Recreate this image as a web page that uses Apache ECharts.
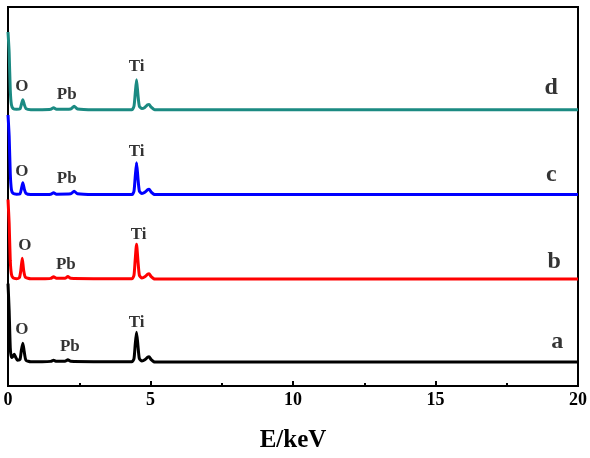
<!DOCTYPE html>
<html>
<head>
<meta charset="UTF-8">
<title>EDS</title>
<script src="https://cdn.jsdelivr.net/npm/echarts@6/dist/echarts.min.js"></script>
<style>
  html, body { margin: 0; padding: 0; background: #fff; }
  #main { width: 590px; height: 458px; }
</style>
</head>
<body>
<div id="main"></div>
<script>
// spectra: [E (keV), intensity incl. vertical offset]
var specA = [[0, 27], [0.04, 20], [0.08, 10], [0.12, 7.5], [0.17, 7.8], [0.22, 8.4], [0.27, 7.6], [0.33, 6.8],
  [0.42, 7.0], [0.47, 9.5], [0.52, 11.3], [0.57, 9.0], [0.63, 6.8], [0.8, 6.4], [1.2, 6.4], [1.5, 6.5],
  [1.6, 6.8], [1.7, 6.5], [2.0, 6.5], [2.1, 6.9], [2.2, 6.5], [3.0, 6.4], [4.0, 6.4], [4.35, 6.4],
  [4.42, 7.2], [4.46, 10.6], [4.51, 14.2], [4.56, 10.6], [4.61, 7.2], [4.7, 6.6], [4.8, 6.9], [4.9, 7.6],
  [4.95, 7.7], [5.02, 7.0], [5.15, 6.3], [20, 6.3]];
var specB = [[0, 49.2], [0.04, 43], [0.08, 33], [0.12, 29.5], [0.18, 28.5], [0.3, 28.3], [0.4, 28.6],
  [0.45, 30.5], [0.5, 33.7], [0.55, 30.5], [0.61, 28.7], [0.8, 28.3], [1.2, 28.3], [1.5, 28.4], [1.6, 28.8],
  [1.7, 28.4], [2.0, 28.4], [2.1, 28.9], [2.2, 28.4], [3.0, 28.3], [4.0, 28.3], [4.35, 28.3], [4.42, 29.2],
  [4.46, 33.0], [4.51, 37.4], [4.56, 33.0], [4.61, 29.2], [4.7, 28.5], [4.8, 28.8], [4.9, 29.5], [4.95, 29.6],
  [5.02, 28.9], [5.15, 28.2], [20, 28.2]];
var specC = [[0, 71.5], [0.04, 66], [0.08, 56], [0.12, 51.8], [0.18, 50.8], [0.3, 50.6], [0.42, 50.7],
  [0.47, 52.0], [0.52, 53.6], [0.57, 52.0], [0.63, 50.8], [0.8, 50.5], [1.2, 50.5], [1.5, 50.6], [1.6, 51.0],
  [1.7, 50.6], [2.2, 50.7], [2.32, 51.4], [2.44, 50.7], [3.0, 50.5], [4.0, 50.5], [4.35, 50.5], [4.42, 51.4],
  [4.46, 54.8], [4.51, 58.9], [4.56, 54.8], [4.61, 51.4], [4.7, 50.8], [4.8, 51.1], [4.9, 51.8], [4.95, 51.9],
  [5.02, 51.2], [5.15, 50.5], [20, 50.5]];
var specD = [[0, 93.4], [0.04, 88], [0.08, 78], [0.12, 74.2], [0.18, 73.2], [0.3, 73.0], [0.42, 73.1],
  [0.47, 74.3], [0.52, 75.5], [0.57, 74.3], [0.63, 73.2], [0.8, 72.9], [1.2, 72.9], [1.5, 73.0], [1.6, 73.4],
  [1.7, 73.0], [2.2, 73.1], [2.32, 73.8], [2.44, 73.1], [3.0, 72.9], [4.0, 72.9], [4.35, 72.9], [4.42, 73.8],
  [4.46, 76.8], [4.51, 80.8], [4.56, 76.8], [4.61, 73.8], [4.7, 73.2], [4.8, 73.5], [4.9, 74.2], [4.95, 74.3],
  [5.02, 73.6], [5.15, 72.9], [20, 72.9]];

var seriesNames = ['a', 'b', 'c', 'd'];
var seriesColors = ['#000000', '#ff0000', '#0000ff', '#1b8a82'];

// peak labels
var peakText = ['O', 'Pb', 'Ti', 'O', 'Pb', 'Ti', 'O', 'Pb', 'Ti', 'O', 'Pb', 'Ti'];
var peakX = [0.49, 2.17, 4.51, 0.59, 2.03, 4.58, 0.49, 2.06, 4.51, 0.49, 2.06, 4.51];
var peakY = [15.0, 10.3, 16.8, 37.1, 32.1, 40.0, 56.6, 54.7, 61.8, 78.9, 76.8, 84.2];
// curve letters
var tagX = [19.27, 19.16, 19.06, 19.06];
var tagY = [11.6, 32.9, 55.8, 78.7];

var xTicks = [0, 5, 10, 15, 20];

var chart = echarts.init(document.getElementById('main'), null, { renderer: 'canvas' });

var font = "'Liberation Serif', 'Times New Roman', serif";
var specs = [specA, specB, specC, specD];

var series = specs.map(function (d, i) {
  return {
    name: seriesNames[i],
    type: 'line',
    data: d,
    showSymbol: false,
    clip: false,
    smooth: 0.2,
    lineStyle: { color: seriesColors[i], width: 3 },
    z: 3 + i
  };
});

series.push({
  type: 'scatter',
  symbolSize: 0,
  silent: true,
  data: peakText.map(function (t, i) { return { name: t, value: [peakX[i], peakY[i]] }; }),
  label: {
    show: true, position: 'inside', formatter: '{b}',
    color: '#000', fontFamily: font, fontWeight: 'bold', fontSize: 17
  },
  z: 10
});
series.push({
  type: 'scatter',
  symbolSize: 0,
  silent: true,
  data: seriesNames.map(function (t, i) { return { name: t, value: [tagX[i], tagY[i]] }; }),
  label: {
    show: true, position: 'inside', formatter: '{b}',
    color: '#000', fontFamily: font, fontWeight: 'bold', fontSize: 24
  },
  z: 10
});

chart.setOption({
  animation: false,
  backgroundColor: '#fff',
  grid: {
    left: 8, right: 10, top: 7, bottom: 71,
    show: true, borderColor: '#000', borderWidth: 2
  },
  xAxis: {
    type: 'value',
    min: xTicks[0], max: xTicks[xTicks.length - 1], interval: 5,
    name: 'E/keV', nameLocation: 'middle', nameGap: 42,
    nameTextStyle: { color: '#000', fontFamily: font, fontWeight: 'bold', fontSize: 25 },
    axisLine: { lineStyle: { color: '#000', width: 2 } },
    axisTick: { inside: true, length: 5, lineStyle: { color: '#000', width: 2 } },
    minorTick: { show: true, splitNumber: 2, length: 3, lineStyle: { color: '#000', width: 2 } },
    axisLabel: { color: '#000', fontFamily: font, fontWeight: 'bold', fontSize: 18, margin: 5 },
    splitLine: { show: false }
  },
  yAxis: {
    type: 'value', min: 0, max: 100,
    axisLine: { show: true, lineStyle: { color: '#000', width: 2 } },
    axisTick: { show: false },
    axisLabel: { show: false },
    splitLine: { show: false }
  },
  series: series
});
</script>
</body>
</html>
